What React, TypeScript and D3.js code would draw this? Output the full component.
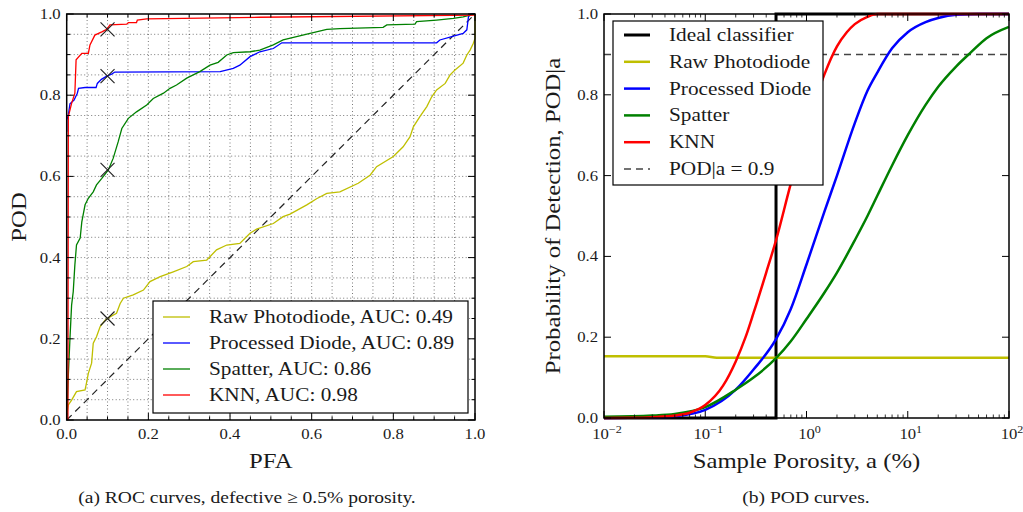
import React from 'react';
import * as d3 from 'd3';

// ROC curves (PFA, POD)
const rawRoc = [
  [0, 0.012], [0.004, 0.037], [0.012, 0.049], [0.024, 0.07], [0.045, 0.074], [0.049, 0.094],
  [0.053, 0.115], [0.061, 0.14], [0.065, 0.189], [0.073, 0.205], [0.082, 0.23], [0.094, 0.246],
  [0.106, 0.254], [0.122, 0.263], [0.131, 0.287], [0.139, 0.3], [0.163, 0.308], [0.188, 0.32],
  [0.204, 0.341], [0.229, 0.353], [0.261, 0.365], [0.294, 0.378], [0.31, 0.39], [0.343, 0.394],
  [0.367, 0.419], [0.392, 0.431], [0.424, 0.435], [0.449, 0.46], [0.465, 0.47], [0.506, 0.484],
  [0.53, 0.501], [0.547, 0.507], [0.588, 0.53], [0.612, 0.545], [0.637, 0.558], [0.669, 0.562],
  [0.714, 0.583], [0.743, 0.603], [0.759, 0.624], [0.8, 0.649], [0.824, 0.673], [0.841, 0.698],
  [0.849, 0.722], [0.865, 0.747], [0.882, 0.772], [0.894, 0.796], [0.906, 0.813], [0.927, 0.829],
  [0.939, 0.85], [0.951, 0.862], [0.971, 0.879], [0.98, 0.899], [0.988, 0.911], [0.996, 0.928],
  [1.0, 0.94], [1.0, 1.0],
];
const diodeRoc = [
  [0, 0.71], [0, 0.739], [0.004, 0.751], [0.008, 0.779], [0.018, 0.788], [0.026, 0.805],
  [0.029, 0.817], [0.045, 0.819], [0.072, 0.819], [0.075, 0.829], [0.085, 0.839], [0.098, 0.847],
  [0.11, 0.852], [0.118, 0.857], [0.376, 0.858], [0.408, 0.866], [0.424, 0.874], [0.449, 0.895],
  [0.473, 0.907], [0.506, 0.915], [0.527, 0.929], [0.906, 0.929], [0.914, 0.936], [0.943, 0.944],
  [0.971, 0.952], [0.98, 0.961], [0.984, 0.993], [0.99, 1.0], [1.0, 1.0],
];
const spatterRoc = [
  [0, 0], [0.002, 0.05], [0.004, 0.111], [0.008, 0.201], [0.012, 0.283], [0.016, 0.316],
  [0.02, 0.382], [0.024, 0.431], [0.033, 0.448], [0.037, 0.488], [0.045, 0.53], [0.053, 0.546],
  [0.065, 0.562], [0.073, 0.579], [0.086, 0.595], [0.102, 0.616], [0.114, 0.645], [0.126, 0.685],
  [0.135, 0.718], [0.151, 0.743], [0.171, 0.759], [0.196, 0.776], [0.212, 0.792], [0.237, 0.805],
  [0.253, 0.817], [0.269, 0.825], [0.294, 0.842], [0.326, 0.858], [0.351, 0.874], [0.371, 0.881],
  [0.392, 0.899], [0.408, 0.905], [0.449, 0.907], [0.473, 0.911], [0.506, 0.924], [0.53, 0.936],
  [0.596, 0.952], [0.637, 0.962], [0.669, 0.964], [0.775, 0.967], [0.784, 0.973], [0.853, 0.975],
  [0.857, 0.981], [0.906, 0.985], [0.947, 0.989], [0.971, 0.993], [0.988, 0.997], [1.0, 1.0],
];
const knnRoc = [
  [0.003, 0], [0.004, 0.747], [0.012, 0.78], [0.02, 0.805], [0.023, 0.887], [0.037, 0.903],
  [0.053, 0.903], [0.057, 0.924], [0.069, 0.948], [0.086, 0.956], [0.098, 0.962], [0.106, 0.973],
  [0.147, 0.975], [0.151, 0.979], [0.171, 0.979], [0.173, 0.985], [0.196, 0.988], [0.473, 0.992],
  [1.0, 0.997], [1.0, 1.0],
];
const rocNames = ['Raw Photodiode, AUC: 0.49', 'Processed Diode, AUC: 0.89', 'Spatter, AUC: 0.86', 'KNN, AUC: 0.98'];
const rocColors = ['#bfbf00', '#0000ff', '#008000', '#ff0000'];
const rocCurves = [rawRoc, diodeRoc, spatterRoc, knnRoc];
// operating points marked with x at PFA = 0.1
const markerPfa = 0.1;
const markerPod = [0.25, 0.847, 0.616, 0.962];

// POD curves (porosity %, POD)
const idealPod = [[0.01, 0], [0.5, 0], [0.5, 1], [100, 1]];
const rawPod = [[0.01, 0.153], [0.1, 0.153], [0.13, 0.149], [100, 0.149]];
const diodePod = [
  [0.01, 0], [0.03, 0.001], [0.05, 0.004], [0.1, 0.02], [0.2, 0.07], [0.3, 0.12], [0.5, 0.195],
  [0.7, 0.27], [1.0, 0.38], [1.5, 0.51], [2, 0.6], [3, 0.73], [4, 0.81], [5, 0.855], [7, 0.915],
  [10, 0.955], [15, 0.98], [20, 0.99], [30, 0.998], [50, 1.0], [100, 1.0],
];
const spatterPod = [
  [0.01, 0.003], [0.03, 0.006], [0.05, 0.01], [0.1, 0.027], [0.2, 0.07], [0.3, 0.1], [0.5, 0.148],
  [0.7, 0.19], [1.0, 0.245], [1.5, 0.31], [2, 0.36], [3, 0.44], [4, 0.5], [5, 0.55], [7, 0.625],
  [10, 0.7], [15, 0.775], [20, 0.82], [30, 0.87], [42, 0.905], [60, 0.94], [100, 0.968],
];
const knnPod = [
  [0.01, 0], [0.02, 0.0005], [0.03, 0.002], [0.05, 0.006], [0.07, 0.013], [0.1, 0.032], [0.15, 0.08],
  [0.2, 0.14], [0.25, 0.2], [0.3, 0.26], [0.4, 0.36], [0.5, 0.44], [0.7, 0.58], [1.0, 0.715],
  [1.5, 0.85], [2, 0.92], [2.5, 0.955], [3, 0.975], [4, 0.993], [5, 1.0], [100, 1.0],
];
const podNames = ['Ideal classifier', 'Raw Photodiode', 'Processed Diode', 'Spatter', 'KNN', 'POD|a = 0.9'];
const podColors = ['#000000', '#bfbf00', '#0000ff', '#008000', '#ff0000', '#444444'];
const podCurves = [idealPod, rawPod, diodePod, spatterPod, knnPod];
const podThreshold = 0.9;

const linTicks = [0, 0.2, 0.4, 0.6, 0.8, 1.0];
const decades = [-2, -1, 0, 1, 2];

// no DejaVu Serif here, so a widened Liberation Serif stands in for matplotlib's serif
const font = "'Liberation Serif', serif";
const SX = 1.15;

type TProps = {
  x: number;
  y: number;
  size: number;
  anchor?: string;
  rotate?: boolean;
  sx?: number;
  children: React.ReactNode;
};

const T = ({ x, y, size, anchor = 'start', rotate = false, sx = SX, children }: TProps) => (
  <text
    transform={`translate(${x},${y})${rotate ? ' rotate(-90)' : ''} scale(${sx},1)`}
    fontSize={size}
    textAnchor={anchor}
    fill="#1a1a1a"
  >
    {children}
  </text>
);

const App = () => {
  // left panel
  const xL = d3.scaleLinear().domain([0, 1]).range([66.7, 475]);
  const yL = d3.scaleLinear().domain([0, 1]).range([420, 14]);
  // right panel
  const xR = d3.scaleLog().domain([0.01, 100]).range([604, 1009]);
  const yR = d3.scaleLinear().domain([0, 1]).range([418, 14]);

  const lineL = d3.line<number[]>().x((d) => xL(d[0])).y((d) => yL(d[1]));
  const lineR = d3.line<number[]>().x((d) => xR(d[0])).y((d) => yR(d[1])).curve(d3.curveMonotoneX);
  const lineIdeal = d3.line<number[]>().x((d) => xR(d[0])).y((d) => yR(d[1]));

  const fine = d3.range(0, 21).map((i) => i * 0.05);
  const minorLog: number[] = [];
  for (let e = -2; e < 2; e++) for (let m = 2; m < 10; m++) minorLog.push(m * Math.pow(10, e));

  const [lx0, lx1] = xL.range();
  const [ly0, ly1] = yL.range();
  const [rx0, rx1] = xR.range();
  const [ry0, ry1] = yR.range();

  return (
    <svg width={1023} height={512} style={{ position: 'absolute', left: 0, top: 0, background: '#fff', fontFamily: font }}>
      {/* ---------- left: ROC ---------- */}
      <g>
        {fine.slice(1, -1).map((v) => (
          <g key={'g' + v} stroke="#000" strokeWidth={0.7} strokeDasharray="1,2.5" opacity={0.75}>
            <line x1={xL(v)} x2={xL(v)} y1={ly0} y2={ly1} />
            <line x1={lx0} x2={lx1} y1={yL(v)} y2={yL(v)} />
          </g>
        ))}
        <line x1={xL(0)} y1={yL(0)} x2={xL(1)} y2={yL(1)} stroke="#222" strokeWidth={1.2} strokeDasharray="7,5" />
        {rocCurves.map((c, i) => (
          <path key={i} d={lineL(c) || ''} fill="none" stroke={rocColors[i]} strokeWidth={1.3} />
        ))}
        {markerPod.map((p, i) => {
          const cx = xL(markerPfa);
          const cy = yL(p);
          return (
            <g key={'m' + i} stroke="#222" strokeWidth={1.1}>
              <line x1={cx - 7} y1={cy - 7} x2={cx + 7} y2={cy + 7} />
              <line x1={cx - 7} y1={cy + 7} x2={cx + 7} y2={cy - 7} />
            </g>
          );
        })}
        {/* ticks */}
        {fine.map((v) => {
          const len = linTicks.some((t) => Math.abs(t - v) < 1e-9) ? 7 : 3.5;
          return (
            <g key={'t' + v} stroke="#000" strokeWidth={1}>
              <line x1={xL(v)} x2={xL(v)} y1={ly0} y2={ly0 - len} />
              <line x1={xL(v)} x2={xL(v)} y1={ly1} y2={ly1 + len} />
              <line x1={lx0} x2={lx0 + len} y1={yL(v)} y2={yL(v)} />
              <line x1={lx1} x2={lx1 - len} y1={yL(v)} y2={yL(v)} />
            </g>
          );
        })}
        <rect x={lx0} y={ly1} width={lx1 - lx0} height={ly0 - ly1} fill="none" stroke="#000" strokeWidth={1.5} />
        {linTicks.map((v) => (
          <g key={'l' + v}>
            <T x={xL(v)} y={ly0 + 19} size={14.5} anchor="middle">{v.toFixed(1)}</T>
            <T x={lx0 - 6} y={yL(v) + 5} size={14.5} anchor="end">{v.toFixed(1)}</T>
          </g>
        ))}
        <T x={(lx0 + lx1) / 2} y={468} size={21.5} anchor="middle">PFA</T>
        <T x={26} y={(ly0 + ly1) / 2} size={21.5} anchor="middle" rotate>POD</T>
        {/* legend */}
        <rect x={153} y={301} width={315} height={112} fill="#fff" stroke="#000" strokeWidth={1.2} />
        {rocNames.map((n, i) => (
          <g key={n}>
            <line x1={163} x2={190} y1={317 + i * 26} y2={317 + i * 26} stroke={rocColors[i]} strokeWidth={1.3} />
            <T x={209} y={323 + i * 26} size={18.5}>{n}</T>
          </g>
        ))}
      </g>

      {/* ---------- right: POD ---------- */}
      <g>
        <line x1={rx0} x2={rx1} y1={yR(podThreshold)} y2={yR(podThreshold)} stroke="#444" strokeWidth={1.5} strokeDasharray="7,5" />
        <path d={lineIdeal(podCurves[0]) || ''} fill="none" stroke={podColors[0]} strokeWidth={3} />
        {podCurves.slice(1).map((c, i) => (
          <path key={i} d={lineR(c) || ''} fill="none" stroke={podColors[i + 1]} strokeWidth={2.5} />
        ))}
        {linTicks.map((v) => (
          <g key={'ry' + v} stroke="#000" strokeWidth={1}>
            <line x1={rx0} x2={rx0 + 7} y1={yR(v)} y2={yR(v)} />
            <line x1={rx1} x2={rx1 - 7} y1={yR(v)} y2={yR(v)} />
          </g>
        ))}
        {decades.map((e) => {
          const x = xR(Math.pow(10, e));
          return (
            <g key={'rx' + e} stroke="#000" strokeWidth={1}>
              <line x1={x} x2={x} y1={ry0} y2={ry0 - 7} />
              <line x1={x} x2={x} y1={ry1} y2={ry1 + 7} />
            </g>
          );
        })}
        {minorLog.map((v) => (
          <g key={'rm' + v} stroke="#000" strokeWidth={0.8}>
            <line x1={xR(v)} x2={xR(v)} y1={ry0} y2={ry0 - 3.5} />
            <line x1={xR(v)} x2={xR(v)} y1={ry1} y2={ry1 + 3.5} />
          </g>
        ))}
        <rect x={rx0} y={ry1} width={rx1 - rx0} height={ry0 - ry1} fill="none" stroke="#000" strokeWidth={1.5} />
        {linTicks.map((v) => (
          <T key={'ryl' + v} x={rx0 - 6} y={yR(v) + 5} size={14.5} anchor="end">{v.toFixed(1)}</T>
        ))}
        {decades.map((e) => (
          <T key={'rxl' + e} x={xR(Math.pow(10, e)) + 3} y={ry0 + 21} size={14.5} anchor="middle">
            10<tspan dy={-6} fontSize={10.5}>{e < 0 ? '\u2212' + Math.abs(e) : String(e)}</tspan>
          </T>
        ))}
        <T x={(rx0 + rx1) / 2} y={468} size={21.5} anchor="middle">Sample Porosity, a (%)</T>
        <T x={560} y={(ry0 + ry1) / 2} size={21.5} anchor="middle" rotate>Probability of Detection, POD|a</T>
        {/* legend */}
        <rect x={613} y={21} width={210} height={164} fill="#fff" stroke="#000" strokeWidth={1.2} />
        {podNames.map((n, i) => (
          <g key={n}>
            <line
              x1={624}
              x2={650}
              y1={35 + i * 26.8}
              y2={35 + i * 26.8}
              stroke={podColors[i]}
              strokeWidth={i === 5 ? 1.5 : i === 0 ? 3 : 2.5}
              strokeDasharray={i === 5 ? '7,5' : undefined}
            />
            <T x={669} y={41 + i * 26.8} size={18.5}>{n}</T>
          </g>
        ))}
      </g>

      {/* captions */}
      <T x={247} y={503} size={17} anchor="middle">(a) ROC curves, defective ≥ 0.5% porosity.</T>
      <T x={806} y={503} size={17} anchor="middle">(b) POD curves.</T>
    </svg>
  );
};

export default App;
